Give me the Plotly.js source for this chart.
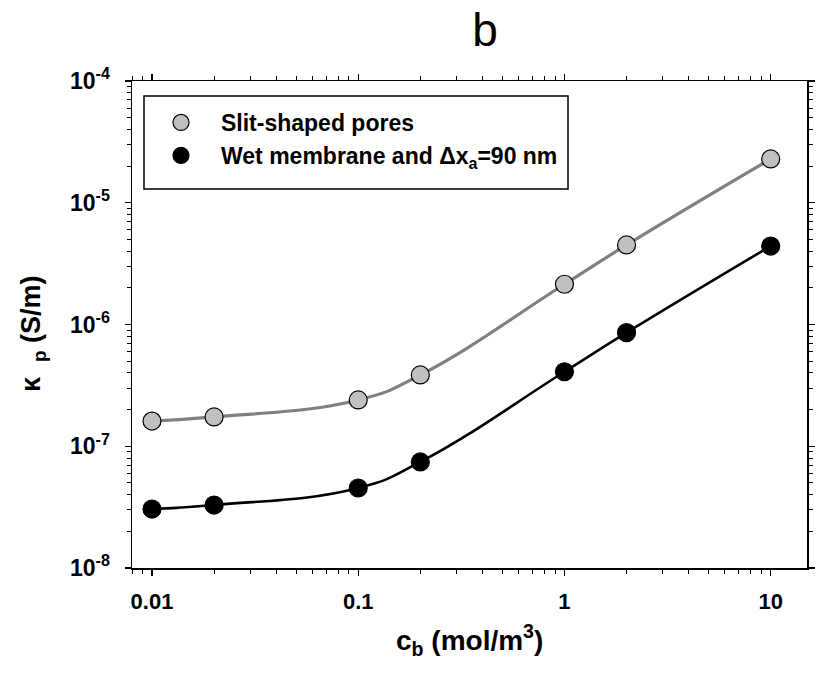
<!DOCTYPE html>
<html>
<head>
<meta charset="utf-8">
<script src="https://cdn.plot.ly/plotly-3.0.1.min.js"></script>
<style>html,body{margin:0;padding:0;background:#fff;}#chart{width:827px;height:679px;}</style>
</head>
<body>
<div id="chart"></div>
<script>
// concentrations c_b (mol/m^3)
var cb = [0.01, 0.02, 0.1, 0.2, 1, 2, 10];
// conductivity kappa_p (S/m)
var slitPores = [1.61e-7, 1.74e-7, 2.40e-7, 3.85e-7, 2.14e-6, 4.50e-6, 2.29e-5];
var wetMembrane = [3.05e-8, 3.29e-8, 4.54e-8, 7.43e-8, 4.09e-7, 8.57e-7, 4.41e-6];
var seriesNames = ['Slit-shaped pores', 'Wet membrane and \u0394x<sub>a</sub>=90 nm'];
var xTickVals = [0.01, 0.1, 1, 10];
var xTickText = ['0.01', '0.1', '1', '10'];
var yTickVals = [1e-8, 1e-7, 1e-6, 1e-5, 1e-4];
var yTickText = ['10<sup>-8</sup>', '10<sup>-7</sup>', '10<sup>-6</sup>', '10<sup>-5</sup>', '10<sup>-4</sup>'];

var FONT = 'Liberation Sans, Arial, sans-serif';

// plot area in pixels
var PL = 132, PR = 807, PT = 81, PB = 568;
var PW = PR - PL, PH = PB - PT;
function px(x) { return (x - PL) / PW; }
function py(y) { return (PB - y) / PH; }

var traces = [
  {x: cb, y: slitPores, mode: 'lines', line: {shape: 'spline', smoothing: 1.3, color: '#808080', width: 3.2}, showlegend: false, hoverinfo: 'skip'},
  {x: cb, y: wetMembrane, mode: 'lines', line: {shape: 'spline', smoothing: 1.3, color: '#000000', width: 2.6}, showlegend: false, hoverinfo: 'skip'},
  {x: cb, y: slitPores, mode: 'markers', name: seriesNames[0], marker: {size: 18, color: '#c0c0c0', line: {color: '#000', width: 1.2}}},
  {x: cb, y: wetMembrane, mode: 'markers', name: seriesNames[1], marker: {size: 18, color: '#000000', line: {color: '#000', width: 1.2}}}
];

var axisCommon = {
  type: 'log', showgrid: false, zeroline: false,
  showline: true, linecolor: '#000', linewidth: 1.5,
  mirror: 'ticks', ticks: 'outside', ticklen: 6, tickwidth: 1.2, tickcolor: '#000',
  tickfont: {family: FONT, size: 22, color: '#000', weight: 'bold'},
  minor: {dtick: 'D1', ticks: 'outside', ticklen: 4, tickwidth: 1, tickcolor: '#000', showgrid: false}
};

var layout = {
  width: 827, height: 679,
  margin: {l: PL, r: 827 - PR, t: PT, b: 679 - PB},
  paper_bgcolor: '#fff', plot_bgcolor: '#fff',
  font: {family: FONT, color: '#000'},
  title: {text: 'b', font: {family: FONT, size: 46, color: '#000'}, x: 485/827, xref: 'container', xanchor: 'center', y: 1 - 30/679, yref: 'container', yanchor: 'middle'},
  xaxis: Object.assign({}, axisCommon, {
    range: [Math.log10(0.008), Math.log10(15)],
    tickmode: 'array', tickvals: xTickVals, ticktext: xTickText,
    ticklabelstandoff: 7
  }),
  yaxis: Object.assign({}, axisCommon, {
    range: [-8, -4],
    tickmode: 'array', tickvals: yTickVals, ticktext: yTickText,
    tickfont: {family: FONT, size: 23, color: '#000', weight: 'bold'},
    ticklabelstandoff: 10
  }),
  legend: {
    x: px(141), y: py(101), xanchor: 'left', yanchor: 'top',
    bgcolor: 'rgba(0,0,0,0)', borderwidth: 0,
    itemwidth: 70,
    font: {family: FONT, size: 23, color: '#000', weight: 'bold'},
    tracegroupgap: 0
  },
  annotations: [
    {text: 'c<sub>b</sub> (mol/m<sup>3</sup>)', xref: 'paper', yref: 'paper', x: px(469), y: py(640), xanchor: 'center', yanchor: 'middle', showarrow: false,
     font: {family: FONT, size: 28, color: '#000', weight: 'bold'}},
    {text: '\u03ba  <sub>p</sub> (S/m)', xref: 'paper', yref: 'paper', x: px(33), y: py(334), xanchor: 'center', yanchor: 'middle', textangle: -90, showarrow: false,
     font: {family: FONT, size: 27, color: '#000', weight: 'bold'}}
  ],
  shapes: [
    {type: 'rect', xref: 'paper', yref: 'paper', x0: px(144), x1: px(568), y0: py(189), y1: py(96), line: {color: '#000', width: 1.5}, fillcolor: 'rgba(0,0,0,0)', layer: 'below'}
  ],
  showlegend: true
};

Plotly.newPlot('chart', traces, layout, {displayModeBar: false, staticPlot: true});
</script>
</body>
</html>
